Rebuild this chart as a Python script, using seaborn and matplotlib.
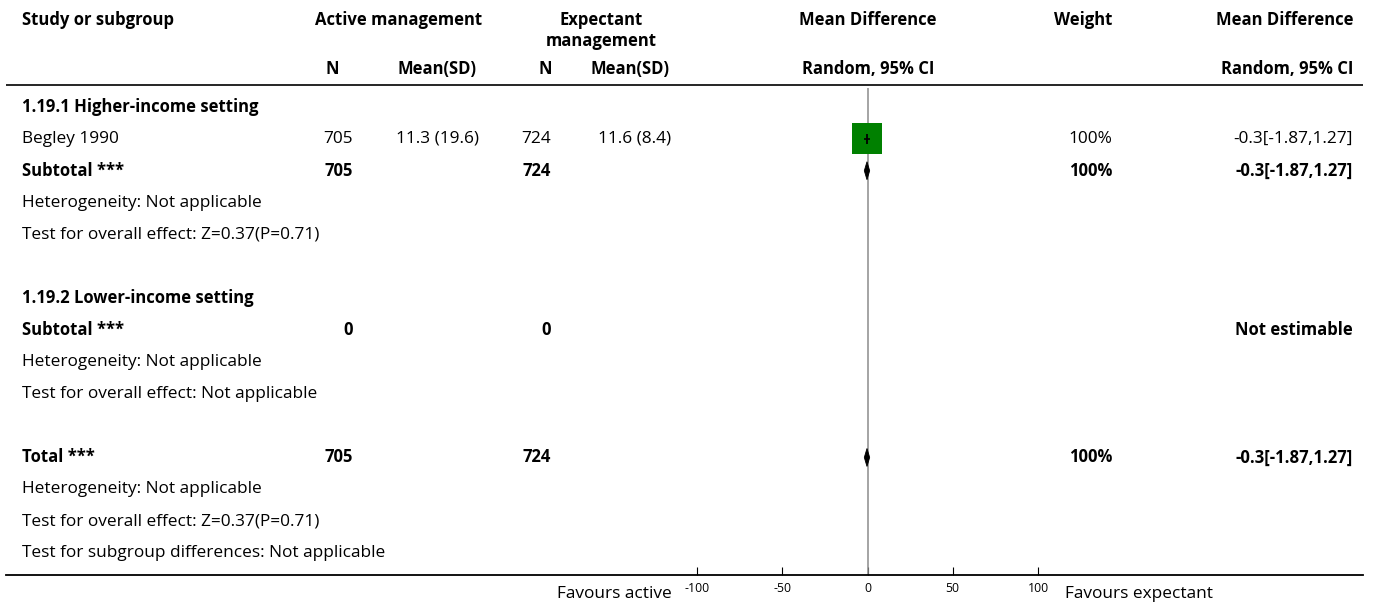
import numpy as np
import matplotlib
matplotlib.use("Agg")
import matplotlib.pyplot as plt
import seaborn as sns
from matplotlib.transforms import Affine2D, blended_transform_factory

# ---------------- data ----------------
row_labels = [
    "1.19.1 Higher-income setting",
    "Begley 1990",
    "Subtotal ***",
    "Heterogeneity: Not applicable",
    "Test for overall effect: Z=0.37(P=0.71)",
    "",
    "1.19.2 Lower-income setting",
    "Subtotal ***",
    "Heterogeneity: Not applicable",
    "Test for overall effect: Not applicable",
    "",
    "Total ***",
    "Heterogeneity: Not applicable",
    "Test for overall effect: Z=0.37(P=0.71)",
    "Test for subgroup differences: Not applicable",
]
row_bold = [True, False, True, False, False, False, True, True,
            False, False, False, True, False, False, False]

active_n_col = ["", "705", "705", "", "", "", "", "0", "", "", "", "705", "", "", ""]
active_msd_col = ["", "11.3 (19.6)", "", "", "", "", "", "", "", "", "", "", "", "", ""]
expect_n_col = ["", "724", "724", "", "", "", "", "0", "", "", "", "724", "", "", ""]
expect_msd_col = ["", "11.6 (8.4)", "", "", "", "", "", "", "", "", "", "", "", "", ""]
weight_col = ["", "100%", "100%", "", "", "", "", "", "", "", "", "100%", "", "", ""]
md_col = ["", "-0.3[-1.87,1.27]", "-0.3[-1.87,1.27]", "", "", "", "",
          "Not estimable", "", "", "", "-0.3[-1.87,1.27]", "", "", ""]

# individual study estimates (row index, estimate, CI, weight %)
study_rows = [1]
study_md = [-0.3]
study_lo = [-1.87]
study_hi = [1.27]
study_weight = [100]

# pooled estimates drawn as diamonds
pooled_rows = [2, 11]
pooled_md = [-0.3, -0.3]
pooled_lo = [-1.87, -1.87]
pooled_hi = [1.27, 1.27]

axis_ticks = [-100, -50, 0, 50, 100]
favours_left = "Favours active"
favours_right = "Favours expectant"

# ---------------- layout ----------------
W, H, DPI = 1373, 604, 100
sns.set_theme(style="white")
plt.rcParams["font.family"] = ["Open Sans", "DejaVu Sans"]
plt.rcParams["text.color"] = "black"

fig = plt.figure(figsize=(W / DPI, H / DPI), dpi=DPI)
fig.patch.set_facecolor("white")

left_px, right_px = 6, 1363
axis_y_px = 575
lo_px, hi_px = 697, 1038               # pixel positions of -100 and 100
upp = (axis_ticks[-1] - axis_ticks[0]) / (hi_px - lo_px)
xmin = axis_ticks[0] - (lo_px - left_px) * upp
xmax = axis_ticks[-1] + (right_px - hi_px) * upp

ax = fig.add_axes([left_px / W, 1 - axis_y_px / H,
                   (right_px - left_px) / W, axis_y_px / H])
ax.set_facecolor("white")
ax.set_xlim(xmin, xmax)
ax.set_ylim(axis_y_px, 0)

row_y0, row_step = 107, 31.86
row_y = row_y0 + row_step * np.arange(len(row_labels))

# x in figure pixels, y in row (data) units
px = Affine2D().scale(1 / W, 1 / H) + fig.transFigure
tr = blended_transform_factory(px, ax.transData)

FS = 12.4
FS_BOLD = 12.0

def put(x, y, s, ha="left", bold=False, size=None):
    if size is None:
        size = FS_BOLD if bold else FS
    return ax.text(x, y, s, transform=tr, ha=ha, va="center", fontsize=size,
                   fontweight="bold" if bold else "normal", color="black",
                   clip_on=False)

# header
hy1, hy2, hy3 = 20, 41, 69
put(22, hy1, "Study or subgroup", bold=True)
put(399, hy1, "Active management", ha="center", bold=True)
put(601, hy1, "Expectant", ha="center", bold=True)
put(601, hy2, "management", ha="center", bold=True)
put(868, hy1, "Mean Difference", ha="center", bold=True)
put(1112, hy1, "Weight", ha="right", bold=True)
put(1353, hy1, "Mean Difference", ha="right", bold=True)
put(332, hy3, "N", ha="center", bold=True)
put(437, hy3, "Mean(SD)", ha="center", bold=True)
put(545, hy3, "N", ha="center", bold=True)
put(630, hy3, "Mean(SD)", ha="center", bold=True)
put(868, hy3, "Random, 95% CI", ha="center", bold=True)
put(1353, hy3, "Random, 95% CI", ha="right", bold=True)

# table body
for i, y in enumerate(row_y):
    b = row_bold[i]
    put(22, y, row_labels[i], bold=b)
    put(353, y, active_n_col[i], ha="right", bold=b)
    put(437, y, active_msd_col[i], ha="center", bold=b)
    put(551, y, expect_n_col[i], ha="right", bold=b)
    put(635, y, expect_msd_col[i], ha="center", bold=b)
    put(1112, y, weight_col[i], ha="right", bold=b)
    put(1353, y, md_col[i], ha="right", bold=b)

# rules
ax.axhline(85, color="black", lw=1.2)
ax.vlines(0, 88, axis_y_px, color="#8c8c8c", lw=1.1, zorder=1)

# study squares sized by weight, with CI whiskers
sq_side_pt = 22.3
sizes = [(sq_side_pt * np.sqrt(w / 100)) ** 2 for w in study_weight]
sns.scatterplot(x=study_md, y=row_y[study_rows], marker="s", s=sizes[0],
                color="#008000", edgecolor="none", linewidth=0, ax=ax,
                zorder=3, legend=False)
ax.hlines(row_y[study_rows], study_lo, study_hi, color="black", lw=1.2, zorder=4)
ax.plot(study_md, row_y[study_rows], marker="|", ms=6.5, mew=1.3,
        color="black", ls="none", zorder=4)

# pooled diamonds
half_h = 9
for r, m, lo, hi in zip(pooled_rows, pooled_md, pooled_lo, pooled_hi):
    y = row_y[r]
    ax.fill([lo, m, hi, m], [y, y - half_h, y, y + half_h],
            color="black", lw=0.6, zorder=4)

# axis
for side in ["top", "left", "right"]:
    ax.spines[side].set_visible(False)
ax.spines["bottom"].set_color("black")
ax.spines["bottom"].set_linewidth(1.3)
ax.set_yticks([])
ax.set_xticks(axis_ticks)
ax.set_xticklabels([str(t) for t in axis_ticks])
ax.tick_params(axis="x", direction="in", length=6, width=0.8, colors="black",
               labelsize=8.8, pad=5, bottom=True)
ax.grid(False)

fav_y = axis_y_px + 19
put(672, fav_y, favours_left, ha="right")
put(1065, fav_y, favours_right, ha="left")

fig.savefig("out.png", dpi=DPI, facecolor="white")
